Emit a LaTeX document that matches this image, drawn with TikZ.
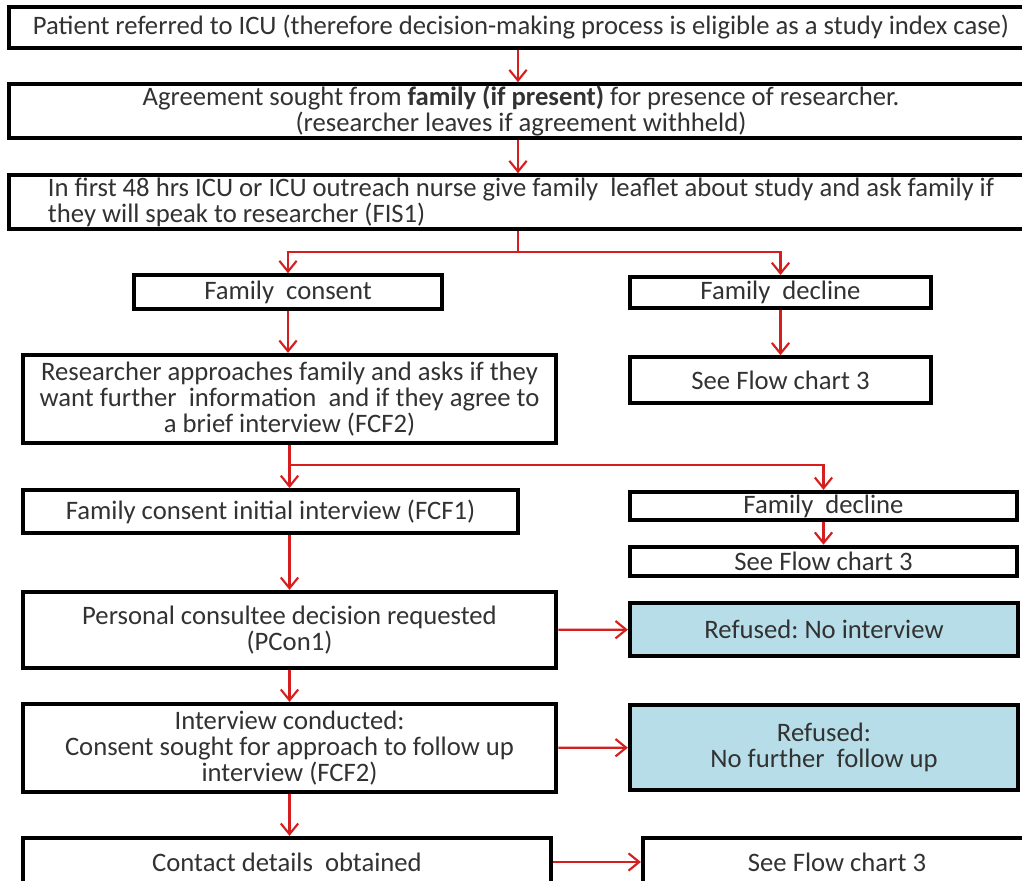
\documentclass[tikz,border=0pt]{standalone}
\usepackage{fontspec}
\setmainfont{Carlito}
\usetikzlibrary{arrows.meta}
\frenchspacing

\definecolor{flowred}{RGB}{215,30,30}
\definecolor{refusedfill}{RGB}{183,222,232}
\definecolor{boxtext}{RGB}{50,50,50}

\begin{document}
\begin{tikzpicture}[x=0.75pt,y=-0.75pt,
    box/.style={draw, line width=3.2pt, inner sep=1pt, align=center, text=boxtext,
        font=\fontsize{20pt}{19.5pt}\selectfont},
    refusedbox/.style={box, fill=refusedfill},
    arr/.style={draw=flowred, line width=1.6pt, -{Straight Barb[length=8pt,width=13pt,line width=1.6pt]}}]
    \fill[white] (0,0) rectangle (1022,881);
    \clip[use as bounding box] (0,0) rectangle (1022,881);
    % main column
    \node[box, minimum width=768pt, minimum height=31pt] (ref) at (521,27.5)
        {Patient referred to ICU (therefore decision-making process is eligible as a study index case)};
    \node[box, minimum width=768pt, minimum height=40pt] (agree) at (521,111)
        {Agreement sought from \textbf{family (if present)} for presence of researcher.\\(researcher leaves if agreement withheld)};
    \node[box, minimum width=768pt, minimum height=40pt, align=left] (leaflet) at (521,202)
        {In first 48 hrs ICU or ICU outreach nurse give family~ leaflet about study and ask family if\\they will speak to researcher (FIS1)};
    \node[box, minimum width=231pt, minimum height=25pt] (consent) at (288,292) {Family~ consent};
    \node[box, minimum width=226pt, minimum height=23pt] (decline) at (780.5,292.5) {Family~ decline};
    \node[box, minimum width=400pt, minimum height=66pt] (approach) at (289.5,399)
        {Researcher approaches family and asks if they\\want further~ information~ and if they agree to\\a brief interview (FCF2)};
    \node[box, minimum width=226pt, minimum height=34pt] (seeA) at (780.5,380) {See Flow chart 3};
    \node[box, minimum width=371pt, minimum height=32pt] (initial) at (270.5,511.5) {Family consent initial interview (FCF1)};
    \node[box, minimum width=290pt, minimum height=21pt] (declineB) at (823.5,506) {Family~ decline};
    \node[box, minimum width=290pt, minimum height=22pt] (seeB) at (823.5,561.5) {See Flow chart 3};
    \node[box, minimum width=400pt, minimum height=57pt] (consultee) at (289.5,630)
        {Personal consultee decision requested\\(PCon1)};
    \node[refusedbox, minimum width=291pt, minimum height=40pt] (refusedA) at (824,629.5) {Refused: No interview};
    \node[box, minimum width=400pt, minimum height=66pt] (interview) at (289.5,748)
        {Interview conducted:\\Consent sought for approach to follow up\\interview (FCF2)};
    \node[refusedbox, minimum width=291pt, minimum height=64pt] (refusedB) at (824,747.5)
        {Refused:\\No further~ follow up};
    \node[box, minimum width=396pt, minimum height=36pt] (contact) at (287,862) {Contact details~ obtained};
    \node[box, minimum width=291pt, minimum height=36pt] (seeC) at (837,862) {See Flow chart 3};
    % branch points
    \coordinate (brA) at (518,252);
    \coordinate (brB) at (289.5,465);
    % connectors
    \draw[arr] (ref.south -| brA) -- (agree.north -| brA);
    \draw[arr] (agree.south -| brA) -- (leaflet.north -| brA);
    \draw[arr] (leaflet.south -| brA) -- (brA) -| (consent.north);
    \draw[arr] (brA) -| (decline.north);
    \draw[arr] (decline) -- (seeA);
    \draw[arr] (consent.south) -- (consent.south |- approach.north);
    \draw[arr] (approach.south) -- (approach.south |- initial.north);
    \draw[arr] (brB) -| (declineB.north);
    \draw[arr] (declineB) -- (seeB);
    \draw[arr] (initial.south -| brB) -- (consultee.north -| brB);
    \draw[arr] (consultee) -- (refusedA);
    \draw[arr] (consultee) -- (interview);
    \draw[arr] (interview) -- (refusedB);
    \draw[arr] (interview.south) -- (contact.north -| interview.south);
    \draw[arr] (contact) -- (seeC);
\end{tikzpicture}
\end{document}
